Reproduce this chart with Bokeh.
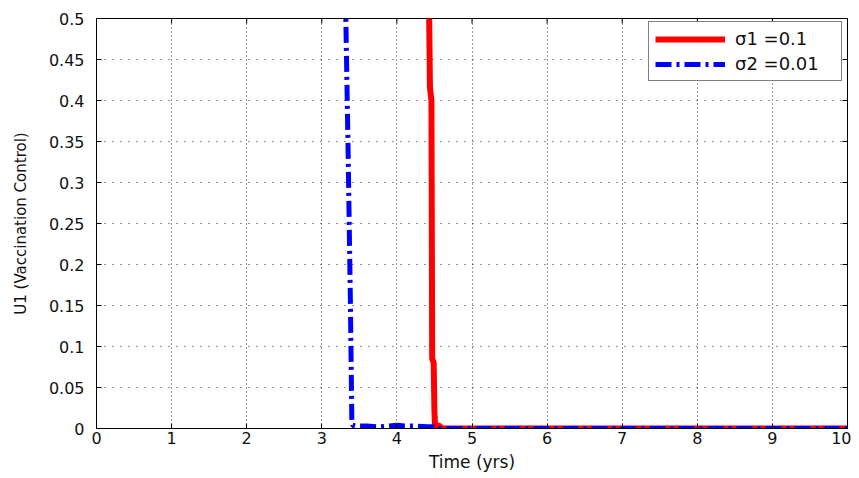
import math
from bokeh.plotting import figure
from bokeh.models import Range1d, FixedTicker, Legend, LegendItem
from bokeh.embed import file_html
from bokeh.resources import INLINE

# ---- data ----
time_red = [0.0, 4.42, 4.43, 4.44, 4.46, 4.47, 4.49, 4.50, 4.51, 4.54, 4.57, 4.60, 10.0]
u1_red = [1.0, 1.0, 0.50, 0.416, 0.40, 0.085, 0.08, 0.02, 0.0, 0.004, 0.003, 0.0, 0.0]

time_blue = [0.0, 3.31, 3.32, 3.35, 3.38, 3.40, 3.41, 3.45, 3.60, 3.75, 3.90, 4.00, 4.10, 4.25, 4.40, 4.48, 4.52, 10.0]
u1_blue = [1.0, 1.0, 0.50, 0.34, 0.16, 0.01, 0.004, 0.003, 0.003, 0.002, 0.003, 0.004, 0.003, 0.003, 0.002, 0.002, 0.0, 0.0]

x_ticks = [0, 1, 2, 3, 4, 5, 6, 7, 8, 9, 10]
y_ticks = [0, 0.05, 0.1, 0.15, 0.2, 0.25, 0.3, 0.35, 0.4, 0.45, 0.5]
y_tick_labels = ["0", "0.05", "0.1", "0.15", "0.2", "0.25", "0.3", "0.35", "0.4", "0.45", "0.5"]
legend_labels = ["\u03c31 =0.1", "\u03c32 =0.01"]
x_label = "Time (yrs)"
y_label = "U1 (Vaccination Control)"

FONT = "DejaVu Sans"
x_min, x_max = x_ticks[0], x_ticks[-1]
y_min, y_max = y_ticks[0], y_ticks[-1]

p = figure(width=851, height=474, output_backend="svg", toolbar_location=None,
           x_range=Range1d(x_min, x_max), y_range=Range1d(y_min, y_max),
           min_border_left=96, min_border_top=18, min_border_right=4, min_border_bottom=44)
p.background_fill_color = "white"
p.border_fill_color = "white"
p.outline_line_color = "black"
p.outline_line_width = 1

# axes
for ax, ticks in ((p.xaxis[0], x_ticks), (p.yaxis[0], y_ticks)):
    ax.ticker = FixedTicker(ticks=ticks)
    ax.major_tick_in = 5
    ax.major_tick_out = 0
    ax.minor_tick_line_color = None
    ax.axis_line_color = "black"
    ax.major_tick_line_color = "black"
    ax.major_label_text_font = FONT
    ax.major_label_text_font_size = "16px"
    ax.major_label_text_color = "#111111"
    ax.axis_label_text_font = FONT
    ax.axis_label_text_font_style = "normal"
    ax.axis_label_text_color = "#111111"

p.yaxis[0].major_label_overrides = {t: l for t, l in zip(y_ticks, y_tick_labels)}
p.yaxis[0].major_label_standoff = 12
p.yaxis[0].axis_label = y_label
p.yaxis[0].axis_label_text_font_size = "15px"
p.yaxis[0].axis_label_standoff = 16

p.xaxis[0].major_label_standoff = 3
p.xaxis[0].axis_label = x_label
p.xaxis[0].axis_label_text_font_size = "17px"
p.xaxis[0].axis_label_standoff = 5

# grid
p.xgrid.ticker = FixedTicker(ticks=x_ticks)
p.ygrid.ticker = FixedTicker(ticks=y_ticks)
p.xgrid.grid_line_color = "black"
p.ygrid.grid_line_color = "black"
p.xgrid.grid_line_dash = "1 3"
p.ygrid.grid_line_dash = "1 7"
p.xgrid.grid_line_alpha = 0.8
p.ygrid.grid_line_alpha = 0.8

# inward box ticks on top and right edges (clipped to the frame)
p.scatter(x_ticks, [y_max] * len(x_ticks), marker="dash", size=10, angle=math.pi / 2,
          line_color="black", line_width=1)
p.scatter([x_max] * len(y_ticks), y_ticks, marker="dash", size=10,
          line_color="black", line_width=1)

# lines
r_red = p.line(time_red, u1_red, line_color="#ff0000", line_width=6)
r_blue = p.line(time_blue, u1_blue, line_color="#0000ff", line_width=5, line_dash="16 5 3 5")

legend = Legend(items=[LegendItem(label=legend_labels[0], renderers=[r_red]),
                       LegendItem(label=legend_labels[1], renderers=[r_blue])],
                location=(552, 347), margin=0, padding=6, spacing=4,
                glyph_width=70, glyph_height=20, label_height=20, label_standoff=10,
                label_width=100,
                label_text_font=FONT, label_text_font_size="18px", label_text_color="#111111",
                border_line_color="black", border_line_width=1,
                background_fill_color="white", background_fill_alpha=1.0)
p.add_layout(legend, "center")

open("out.html", "w").write(file_html(p, INLINE))
